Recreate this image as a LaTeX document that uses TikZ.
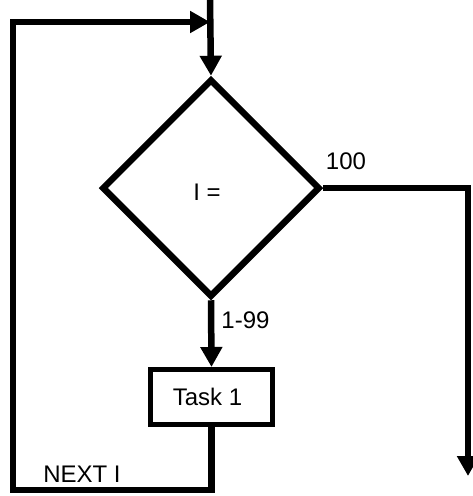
\documentclass[tikz,border=0pt]{standalone}
\usepackage{fontspec}
\setmainfont{Liberation Sans}
\usetikzlibrary{arrows.meta}
\usetikzlibrary{shapes.geometric}

\tikzset{
  flow/.style={line width=6.5pt, -{Triangle[length=20pt,width=21pt]}},
  lbl/.style={font=\fontsize{24}{28}\selectfont, inner sep=0pt},
}

\begin{document}
\begin{tikzpicture}[x=1pt, y=-1pt]
\useasboundingbox (0,0) rectangle (473,496);
\coordinate (in) at (210,0);
\node [diamond, draw, line width=6.5pt, minimum width=218pt, minimum height=218pt, inner sep=0pt] (test) at (211,188) {};
\node [lbl] (cond) at (207,192) {I =};
\node [rectangle, draw, line width=5pt, minimum width=122pt, minimum height=55pt, inner sep=0pt] (task) at (211.5,397) {};
\node [lbl] (tasktxt) at (207.5,397) {Task 1};
\coordinate (back) at (210,22);
\coordinate (exit) at (468,476);
\node [lbl] (hundred) at (346,161) {100};
\node [lbl] (range) at (245.5,320) {1-99};
\node [lbl] (next) at (82,474) {NEXT I};
\draw [flow] (in) to (test.north);
\draw [flow] (test.south) to (task.north);
\draw [flow] (test.east) -| (exit);
\draw [flow] (task.south) -- (211.5,490) -| (13,22) -- (back);
\end{tikzpicture}
\end{document}
